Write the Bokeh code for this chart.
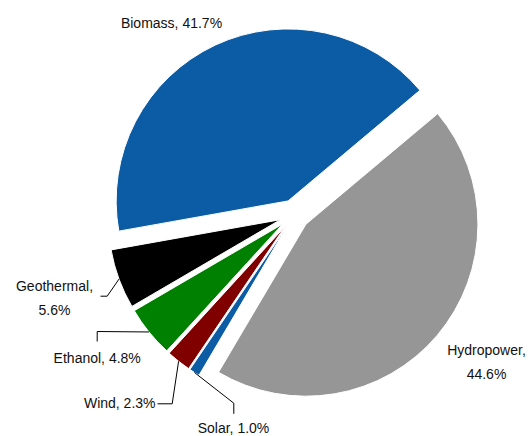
import math
from bokeh.plotting import figure
from bokeh.models import Range1d, ColumnDataSource
from bokeh.core.properties import value
from bokeh.embed import file_html
from bokeh.resources import INLINE

# ---- data ----
categories = ["Biomass", "Geothermal", "Ethanol", "Wind", "Solar", "Hydropower"]
shares = [41.7, 5.6, 4.8, 2.3, 1.0, 44.6]
colors = ["#0B5BA5", "#000000", "#008000", "#800000", "#0B5BA5", "#969696"]

# ---- layout (picture pixel coordinates, y downward) ----
W, H = 529, 436
START_DEG = 40.0
CX, CY = 294.0, 214.0
R = 172.0
EXPLODE = 15.0
FONT = "Liberation Sans"
FSIZE = "14px"
TEXT_DY = -5.5   # correction for rendered baseline position

def Y(py):
    return H - py

p = figure(width=W, height=H, x_range=Range1d(0, W), y_range=Range1d(0, H),
           output_backend="svg", toolbar_location=None, min_border=0,
           x_axis_type=None, y_axis_type=None)
p.grid.visible = False
p.outline_line_color = None
p.background_fill_color = "white"

total = sum(shares)
starts, ends, mids, xs, ys = [], [], [], [], []
a = START_DEG
for s in shares:
    span = 360.0 * s / total
    st, en = a, a + span
    md = (st + en) / 2
    starts.append(math.radians(st)); ends.append(math.radians(en)); mids.append(md)
    xs.append(CX + EXPLODE * math.cos(math.radians(md)))
    ys.append(Y(CY) + EXPLODE * math.sin(math.radians(md)))
    a = en

src = ColumnDataSource(dict(x=xs, y=ys, start=starts, end=ends, color=colors))
p.wedge(x="x", y="y", radius=R, start_angle="start", end_angle="end",
        fill_color="color", line_color="white", line_width=1,
        source=src)

def arc_point(i):
    m = math.radians(mids[i])
    return xs[i] + R * math.cos(m), ys[i] + R * math.sin(m)

# leader lines: (category, elbow points in picture pixels)
leaders = {
    "Geothermal": [(106.7, 295.7), (100.0, 295.7)],
    "Ethanol": [(96.7, 331.0), (96.7, 341.0)],
    "Wind": [(171.7, 403.3), (157.0, 403.3)],
    "Solar": [(233.3, 402.7), (233.3, 413.3)],
}
for name, pts in leaders.items():
    i = categories.index(name)
    x0, y0 = arc_point(i)
    lx = [x0] + [q[0] for q in pts]
    ly = [y0] + [Y(q[1]) for q in pts]
    p.line(lx, ly, line_color="#000000", line_width=1)

# label placement: (x, baseline y, align, two-line?)
label_pos = {
    "Biomass": (171.0, 28.3, "center", False),
    "Hydropower": (486.0, 355.0, "center", True),
    "Geothermal": (54.0, 291.0, "center", True),
    "Ethanol": (96.7, 362.7, "center", False),
    "Wind": (155.0, 408.3, "right", False),
    "Solar": (233.0, 432.5, "center", False),
}
for name, s in zip(categories, shares):
    lx, lb, al, two = label_pos[name]
    pct = f"{s:.1f}%"
    if two:
        lines = [f"{name},", pct]
    else:
        lines = [f"{name}, {pct}"]
    for k, t in enumerate(lines):
        p.text(x=[lx], y=[Y(lb + 23.5 * k + TEXT_DY)], text=[t], text_align=al,
               text_baseline="alphabetic", text_font=value(FONT),
               text_font_size=FSIZE, text_color="#111111")

open("out.html", "w").write(file_html(p, INLINE))
